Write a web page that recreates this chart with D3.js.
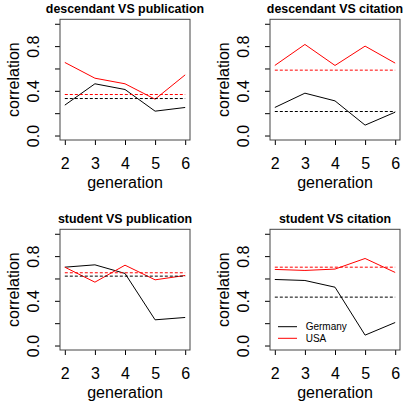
<html>
    <head>
        <script src="https://d3js.org/d3.v7.min.js"></script>
        <style type="text/css">
            body {
                margin: 0;
                background: #fff;
            }
            text {
                font-family: "Liberation Sans", Arial, sans-serif;
            }
        </style>
    </head>
    <body>
        <svg id="chart" width="420" height="420" xmlns="http://www.w3.org/2000/svg"></svg>
        <script type="text/javascript">

        // data
        const generations = [2, 3, 4, 5, 6];
        const titles = ["descendant VS publication", "descendant VS citation",
                        "student VS publication", "student VS citation"];

        const germany = [
            [0.272, 0.463, 0.412, 0.218, 0.251],
            [0.251, 0.379, 0.310, 0.093, 0.209],
            [0.701, 0.722, 0.645, 0.230, 0.251],
            [0.591, 0.582, 0.522, 0.093, 0.206]
        ];
        const usa = [
            [0.654, 0.513, 0.463, 0.325, 0.543],
            [0.627, 0.815, 0.627, 0.800, 0.648],
            [0.701, 0.567, 0.719, 0.588, 0.627],
            [0.681, 0.672, 0.684, 0.779, 0.654]
        ];
        // dashed reference levels
        const germanyRef = [0.331, 0.215, 0.621, 0.433];
        const usaRef = [0.367, 0.585, 0.651, 0.701];

        const yTicks = [0, 0.2, 0.4, 0.6, 0.8, 1.0];
        const yTickLabels = ["0.0", "", "0.4", "", "0.8", ""];
        const legendNames = ["Germany", "USA"];
        const colors = ["#000000", "#ff0000"];

        const svg = d3.select("#chart");

        // one panel = 210x210, plot box inside it
        const PW = 210, PH = 210;
        const box = { left: 60, right: 190, top: 19.3, bottom: 140 };

        const x = d3.scaleLinear().domain([1.84, 6.16]).range([box.left, box.right]);
        const y = d3.scaleLinear().domain([-0.04, 1.04]).range([box.bottom, box.top]);

        const line = d3.line().x((d, i) => x(generations[i])).y(d => y(d));

        titles.forEach((title, p) => {
            const g = svg.append("g")
                .attr("transform", `translate(${(p % 2) * PW},${Math.floor(p / 2) * PH})`);

            // title
            g.append("text")
                .attr("x", (box.left + box.right) / 2)
                .attr("y", 12.5)
                .attr("text-anchor", "middle")
                .style("font-weight", "bold")
                .style("font-size", "12.4px")
                .text(title);

            // x axis
            const xa = g.append("g")
                .attr("transform", `translate(0,${box.bottom})`)
                .call(d3.axisBottom(x).tickValues(generations).tickSize(5).tickFormat(d3.format("d")));
            xa.select(".domain").remove();
            xa.selectAll("line").attr("stroke", "#000");
            xa.selectAll("text")
                .attr("y", 28.5).attr("dy", 0)
                .style("font-size", "16px")
                .attr("fill", "#000");

            // y axis
            const ya = g.append("g")
                .attr("transform", `translate(${box.left},0)`)
                .call(d3.axisLeft(y).tickValues(yTicks).tickSize(5)
                    .tickFormat((d, i) => yTickLabels[i]));
            ya.select(".domain").remove();
            ya.selectAll("line").attr("stroke", "#000");
            ya.selectAll("text")
                .attr("x", 0).attr("dy", 0)
                .attr("text-anchor", "middle")
                .attr("transform", "translate(-21.5,0) rotate(-90)")
                .style("font-size", "16px")
                .attr("fill", "#000");

            // axis titles
            g.append("text")
                .attr("x", (box.left + box.right) / 2)
                .attr("y", 187.5)
                .attr("text-anchor", "middle")
                .style("font-size", "16px")
                .text("generation");
            g.append("text")
                .attr("transform", `translate(19,${(box.top + box.bottom) / 2}) rotate(-90)`)
                .attr("text-anchor", "middle")
                .style("font-size", "16px")
                .text("correlation");

            // series
            [germany[p], usa[p]].forEach((vals, s) => {
                g.append("path")
                    .datum(vals)
                    .attr("d", line)
                    .attr("fill", "none")
                    .attr("stroke", colors[s])
                    .attr("stroke-width", 1);
            });

            // dashed levels
            [germanyRef[p], usaRef[p]].forEach((v, s) => {
                g.append("line")
                    .attr("x1", x(generations[0]))
                    .attr("x2", x(generations[generations.length - 1]))
                    .attr("y1", y(v))
                    .attr("y2", y(v))
                    .attr("stroke", colors[s])
                    .attr("stroke-width", 1)
                    .attr("stroke-dasharray", "3,2");
            });

            // box
            g.append("rect")
                .attr("x", box.left).attr("y", box.top)
                .attr("width", box.right - box.left)
                .attr("height", box.bottom - box.top)
                .attr("fill", "none")
                .attr("stroke", "#444")
                .attr("stroke-width", 1);

            // legend in the last panel
            if (p === 3) {
                legendNames.forEach((name, s) => {
                    const ly = 116.7 + s * 11.6;
                    g.append("line")
                        .attr("x1", 68).attr("x2", 87)
                        .attr("y1", ly).attr("y2", ly)
                        .attr("stroke", colors[s]);
                    g.append("text")
                        .attr("x", 95.7).attr("y", ly)
                        .attr("dy", "0.35em")
                        .style("font-size", "10px")
                        .text(name);
                });
            }
        });
        </script>
    </body>
</html>
